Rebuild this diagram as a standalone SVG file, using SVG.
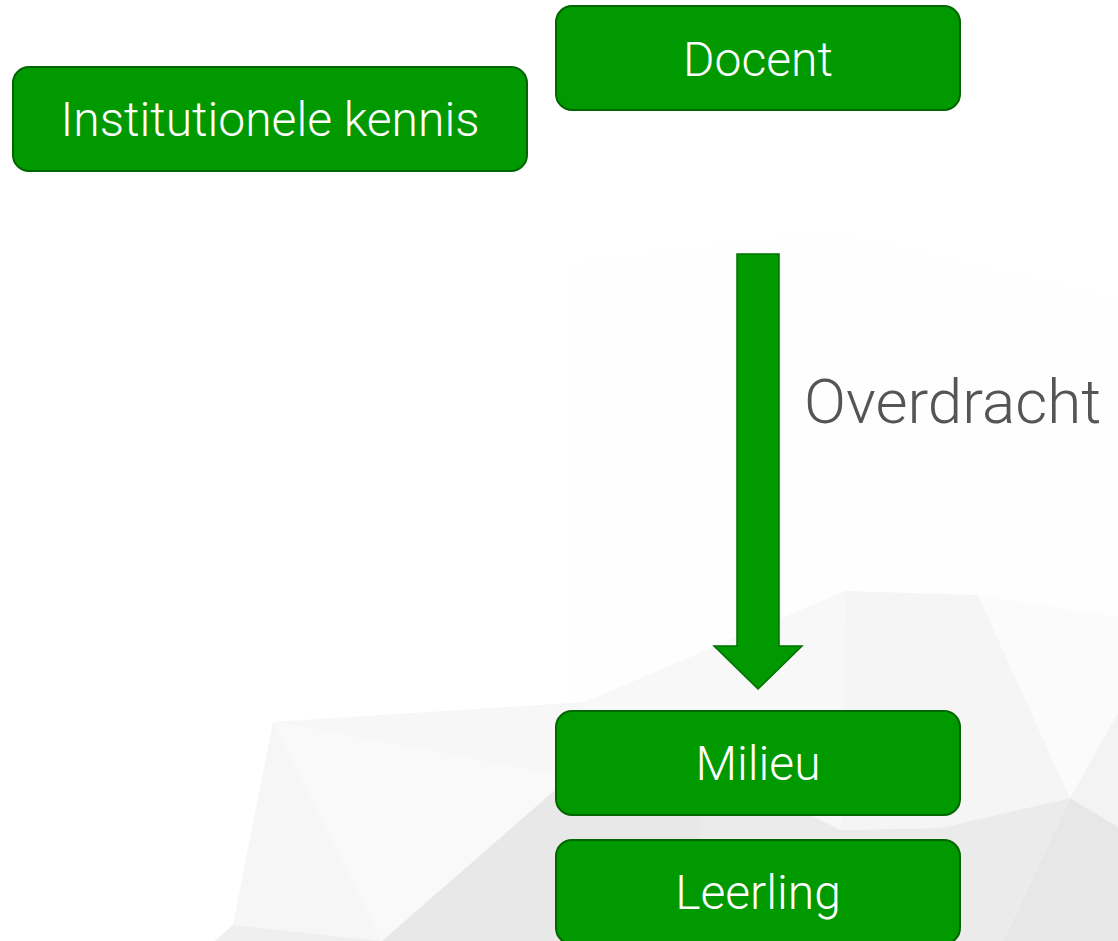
<svg xmlns="http://www.w3.org/2000/svg" width="1118" height="941" viewBox="0 0 1118 941">
  <style>
    .box { fill: #009900; stroke: #006600; stroke-width: 2; }
    .lbl { font-family: Roboto, "Liberation Sans", sans-serif; font-weight: 300; font-size: 48px; fill: #ffffff; text-anchor: middle; }
    .note { font-family: Roboto, "Liberation Sans", sans-serif; font-weight: 300; font-size: 62px; fill: #555555; }
    .arrow { fill: #009900; stroke: #007000; stroke-width: 1.5; stroke-linejoin: miter; }
  </style>

  <!-- low-poly backdrop -->
  <g id="backdrop">
    <rect x="0" y="0" width="1118" height="941" fill="#ffffff"/>
    <polygon points="569,265 830,232 1118,300 1118,617 978,595 845,591 585,702 569,700" fill="#fefefe"/>
    <polygon points="273,722 585,702 557,775" fill="#f7f7f7"/>
    <polygon points="273,722 233,925 382,941" fill="#f6f6f6"/>
    <polygon points="233,925 215,941 382,941" fill="#efefef"/>
    <polygon points="273,722 382,941 555,790 557,775" fill="#f9f9f9"/>
    <polygon points="557,775 555,790 585,702" fill="#f8f8f8"/>
    <polygon points="555,790 382,941 700,941 700,760" fill="#e8e8e8"/>
    <polygon points="585,702 845,591 841,830 700,760 557,775" fill="#f8f8f8"/>
    <polygon points="845,591 978,595 1070,798 940,828 841,830" fill="#f5f5f5"/>
    <polygon points="978,595 1118,617 1118,713 1070,798" fill="#fbfbfb"/>
    <polygon points="1070,798 1118,713 1118,827" fill="#f3f3f3"/>
    <polygon points="700,760 841,830 940,828 1070,798 1003,941 700,941" fill="#ebebeb"/>
    <polygon points="1070,798 1118,827 1118,941 1003,941" fill="#e7e7e7"/>
  </g>

  <!-- connectors -->
  <g id="connectors">
    <polygon class="arrow" points="737,254 779,254 779,646 802,646 758,689 714,646 737,646"/>
    <text class="note" x="804" y="423">Overdracht</text>
  </g>

  <g id="node-institutionele-kennis">
    <rect class="box" x="13" y="67" width="514" height="104" rx="16"/>
    <text class="lbl" x="270" y="136">Institutionele kennis</text>
  </g>
  <g id="node-docent">
    <rect class="box" x="556" y="6" width="404" height="104" rx="16"/>
    <text class="lbl" x="758" y="76">Docent</text>
  </g>
  <g id="node-milieu">
    <rect class="box" x="556" y="711" width="404" height="104" rx="16"/>
    <text class="lbl" x="758" y="780">Milieu</text>
  </g>
  <g id="node-leerling">
    <rect class="box" x="556" y="840" width="404" height="104" rx="16"/>
    <text class="lbl" x="758" y="909">Leerling</text>
  </g>
</svg>
